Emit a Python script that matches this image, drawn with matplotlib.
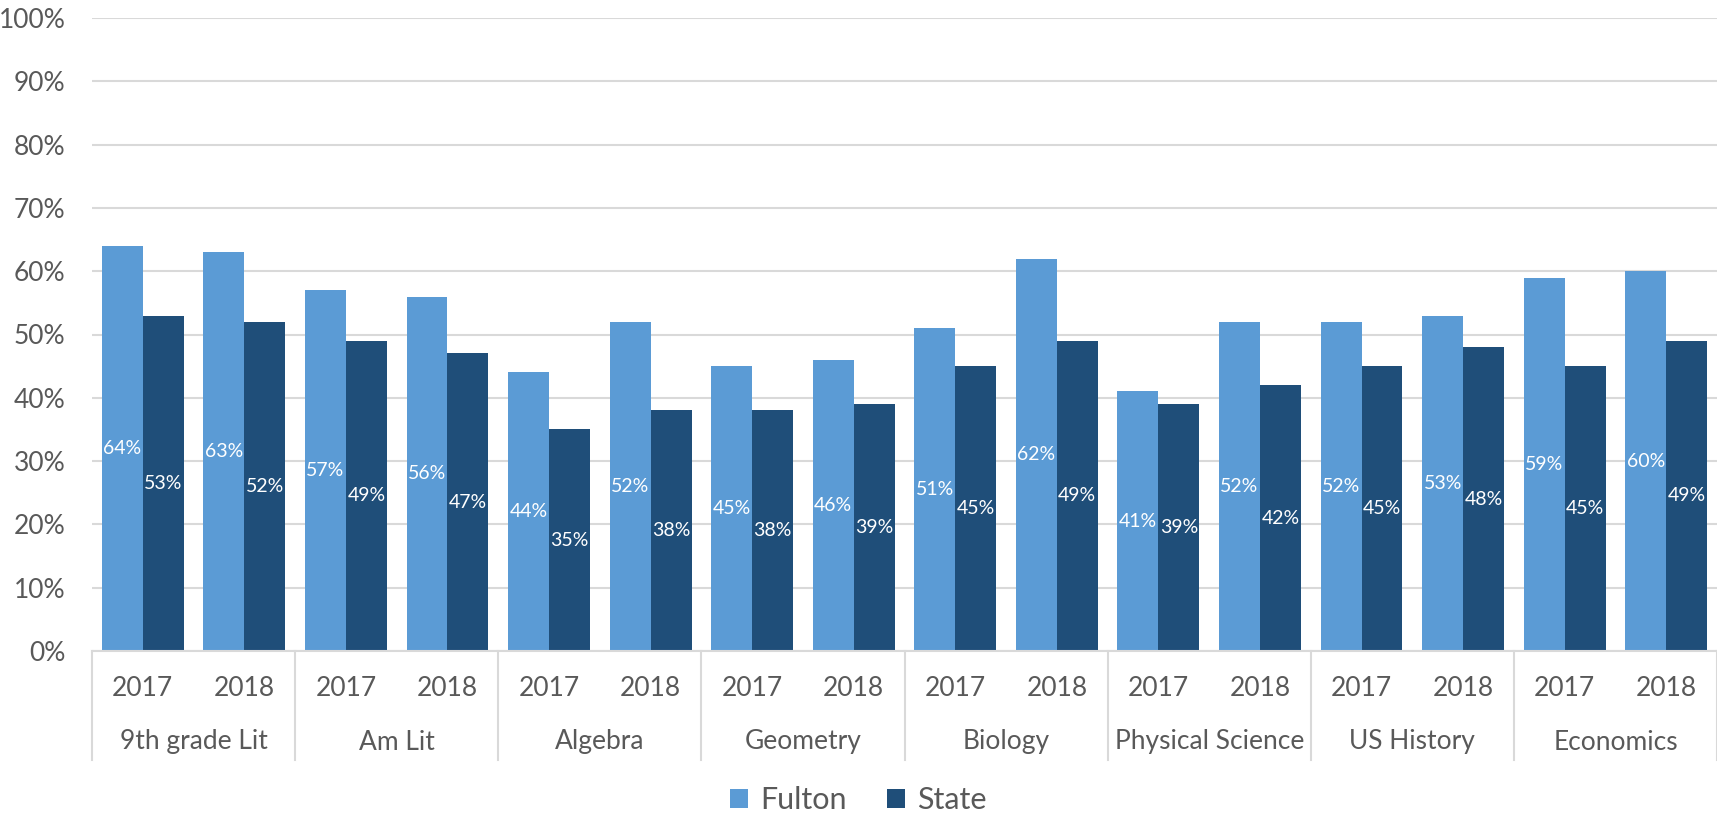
import matplotlib
matplotlib.use("Agg")
import matplotlib.pyplot as plt
from matplotlib.ticker import FuncFormatter
import numpy as np

subjects = ["9th grade Lit", "Am Lit", "Algebra", "Geometry", "Biology",
            "Physical Science", "US History", "Economics"]
years = ["2017", "2018"]
fulton = [64, 63, 57, 56, 44, 52, 45, 46, 51, 62, 41, 52, 52, 53, 59, 60]
state = [53, 52, 49, 47, 35, 38, 38, 39, 45, 49, 39, 42, 45, 48, 45, 49]

C_F = "#5B9BD5"
C_S = "#1F4E79"
TXT = "#595959"
GRID = "#D9D9D9"

plt.rcParams['font.family'] = ['Lato', 'DejaVu Sans']

W, H = 1717, 817
fig = plt.figure(figsize=(W / 100, H / 100), dpi=100)
L, R, T, B = 92, 1717, 18, 651
ax = fig.add_axes([L / W, (H - B) / H, (R - L) / W, (B - T) / H])

n = len(fulton)
x = np.arange(n)
bw = 0.403
ax.bar(x - bw / 2, fulton, bw, color=C_F, label="Fulton", zorder=3)
ax.bar(x + bw / 2, state, bw, color=C_S, label="State", zorder=3)

for i in range(n):
    ax.text(x[i] - bw / 2, fulton[i] / 2, f"{fulton[i]}%", ha="center", va="center",
            color="white", fontsize=14, zorder=4)
    ax.text(x[i] + bw / 2, state[i] / 2, f"{state[i]}%", ha="center", va="center",
            color="white", fontsize=14, zorder=4)

ax.set_xlim(-0.5, n - 0.5)
ax.set_ylim(0, 100)
ax.set_yticks(np.arange(0, 101, 10))
ax.yaxis.set_major_formatter(FuncFormatter(lambda v, p: f"{int(v)}%"))
ax.tick_params(axis="y", length=0, pad=19, labelsize=19, labelcolor=TXT)
ax.set_xticks([])
ax.grid(axis="y", color=GRID, linewidth=1.5, zorder=0)
for s in ["top", "right", "left"]:
    ax.spines[s].set_visible(False)
ax.spines["bottom"].set_color(GRID)
ax.spines["bottom"].set_linewidth(1.5)
ax.spines["bottom"].set_zorder(5)

trans = ax.get_xaxis_transform()
yr_y = -(688 - B) / (B - T)
sub_y = -(742 - B) / (B - T)
sep_bot = -(760 - B) / (B - T)
for i in range(n):
    ax.text(x[i], yr_y, years[i % 2], transform=trans, ha="center", va="center",
            fontsize=19, color=TXT)
for g, name in enumerate(subjects):
    ax.text(2 * g + 0.5, sub_y, name, transform=trans, ha="center", va="center",
            fontsize=19, color=TXT)
for g in range(len(subjects) + 1):
    xs = 2 * g - 0.5
    ax.plot([xs, xs], [0, sep_bot], transform=trans, color=GRID, linewidth=1.5,
            clip_on=False, zorder=5)

leg = fig.legend(loc="center", bbox_to_anchor=(0.5, 1 - 800 / H), ncol=2, frameon=False,
                 fontsize=22, handlelength=0.6, handleheight=0.6, handletextpad=0.4,
                 columnspacing=1.3, labelcolor=TXT)

fig.savefig("out.png", dpi=100)
